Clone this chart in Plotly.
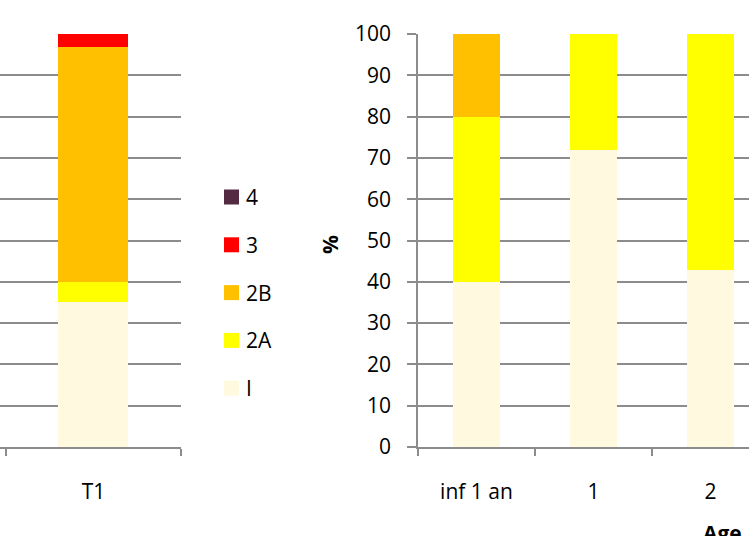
import plotly.graph_objects as go

# Categories of the two panels
periods = ["T1"]
ages = ["inf 1 an", "1", "2"]

# Share (%) of each class, by period
period_I = [35.0]
period_2A = [5.0]
period_2B = [56.8]
period_3 = [3.2]
period_4 = [0.0]

# Share (%) of each class, by age
age_I = [40.0, 72.0, 42.9]
age_2A = [40.0, 28.0, 57.1]
age_2B = [20.0, 0.0, 0.0]
age_3 = [0.0, 0.0, 0.0]
age_4 = [0.0, 0.0, 0.0]

classes = ["I", "2A", "2B", "3", "4"]
colors = {"I": "#FFF9E0", "2A": "#FFFF00", "2B": "#FFC000", "3": "#FF0000", "4": "#532A41"}
period_series = {"I": period_I, "2A": period_2A, "2B": period_2B, "3": period_3, "4": period_4}
age_series = {"I": age_I, "2A": age_2A, "2B": age_2B, "3": age_3, "4": age_4}

FONT = "Open Sans"
GRID = "#8C8C8C"
W, H = 749, 536

fig = go.Figure()
for c in classes:
    fig.add_trace(go.Bar(
        x=periods, y=period_series[c], name=c, marker_color=colors[c],
        marker_line_width=0, showlegend=False, xaxis="x", yaxis="y",
    ))
    fig.add_trace(go.Bar(
        x=ages, y=age_series[c], name=c, marker_color=colors[c],
        marker_line_width=0, showlegend=False, xaxis="x2", yaxis="y2",
    ))

y_top = 1 - 34 / H
y_bot = 1 - 447 / H

common_x = dict(
    type="category", showgrid=False, showline=True, linecolor=GRID, linewidth=1.5,
    ticks="outside", tickson="boundaries", ticklen=7, tickcolor=GRID, tickwidth=1.5,
    tickfont=dict(family=FONT, size=21, color="#000000"), ticklabelstandoff=25,
    fixedrange=True, automargin=False,
)
common_y = dict(
    range=[0, 100], dtick=10, showgrid=True, gridcolor=GRID, gridwidth=1.5,
    zeroline=False, domain=[y_bot, y_top], fixedrange=True, automargin=False,
    tickfont=dict(family=FONT, size=21, color="#000000"),
)

# Legend: top entry is the highest class, stacked downward
legend_shapes = []
legend_notes = []
for i, c in enumerate(reversed(classes)):
    yc = 197 + i * 47.8
    legend_shapes.append(dict(
        type="rect", xref="paper", yref="paper",
        x0=224 / W, x1=239 / W, y0=1 - (yc + 7.5) / H, y1=1 - (yc - 7.5) / H,
        fillcolor=colors[c], line_width=0,
    ))
    legend_notes.append(dict(
        text=c, x=244 / W, y=1 - yc / H, xref="paper", yref="paper",
        xanchor="left", yanchor="middle", showarrow=False,
        font=dict(family=FONT, size=21, color="#000000"),
    ))

fig.update_layout(
    width=W, height=H,
    margin=dict(l=0, r=0, t=0, b=0),
    paper_bgcolor="white", plot_bgcolor="white",
    barmode="stack", bargap=0.6,
    font=dict(family=FONT, size=21, color="#000000"),
    showlegend=False,
    xaxis=dict(common_x, domain=[0, 181 / W], range=[-0.534, 0.5]),
    yaxis=dict(common_y, showticklabels=False, showline=False, ticks=""),
    xaxis2=dict(common_x, domain=[418 / W, 1.0], range=[-0.5, 2.33]),
    yaxis2=dict(
        common_y, anchor="x2", showline=True, linecolor=GRID, linewidth=1.5,
        ticks="outside", ticklen=9, tickcolor=GRID, tickwidth=1.5,
        ticklabelstandoff=12,
    ),
    shapes=legend_shapes,
    annotations=legend_notes + [
        dict(
            text="<b>%</b>", x=330 / W, y=1 - 245 / H, xref="paper", yref="paper",
            xanchor="center", yanchor="middle", textangle=-90, showarrow=False,
            font=dict(family=FONT, size=21, color="#000000"),
        ),
        dict(
            text="<b>Age</b>", x=722 / W, y=1 - 533 / H, xref="paper", yref="paper",
            xanchor="center", yanchor="middle", showarrow=False,
            font=dict(family=FONT, size=21, color="#000000"),
        ),
    ],
)

fig.write_html("out.html")
